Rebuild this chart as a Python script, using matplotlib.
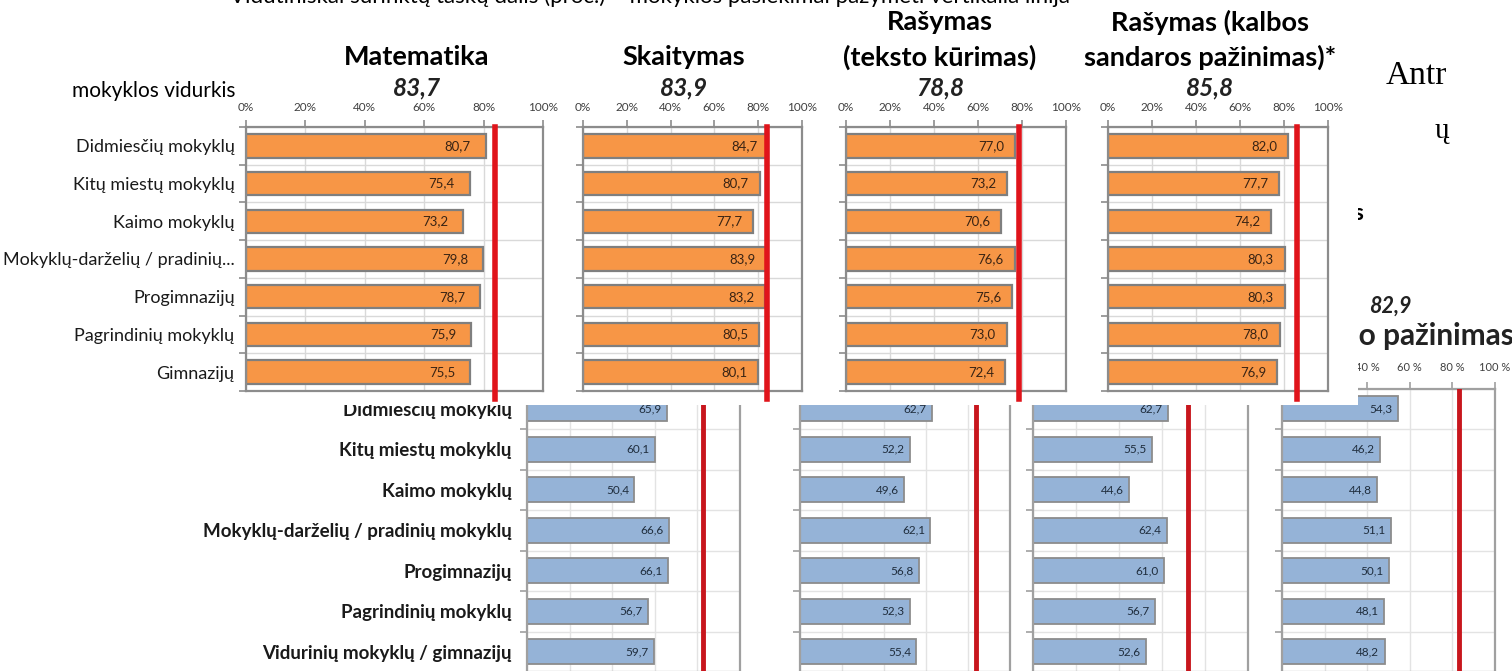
import numpy as np
import matplotlib
matplotlib.use("Agg")
import matplotlib.pyplot as plt
from matplotlib.patches import Rectangle
from matplotlib import font_manager as fm

# ---------------- data ----------------
top_categories = ["Didmiesčių mokyklų", "Kitų miestų mokyklų", "Kaimo mokyklų",
                  "Mokyklų-darželių / pradinių...", "Progimnazijų",
                  "Pagrindinių mokyklų", "Gimnazijų"]
top_subjects = ["Matematika", "Skaitymas", "Rašymas\n(teksto kūrimas)",
                "Rašymas (kalbos\nsandaros pažinimas)*"]
top_school_avg = [83.7, 83.9, 78.8, 85.8]
top_matematika = [80.7, 75.4, 73.2, 79.8, 78.7, 75.9, 75.5]
top_skaitymas = [84.7, 80.7, 77.7, 83.9, 83.2, 80.5, 80.1]
top_rasymas = [77.0, 73.2, 70.6, 76.6, 75.6, 73.0, 72.4]
top_kalba = [82.0, 77.7, 74.2, 80.3, 80.3, 78.0, 76.9]

bottom_categories = ["Didmiesčių mokyklų", "Kitų miestų mokyklų", "Kaimo mokyklų",
                     "Mokyklų-darželių / pradinių mokyklų", "Progimnazijų",
                     "Pagrindinių mokyklų", "Vidurinių mokyklų / gimnazijų"]
bottom_school_avg = [82.6, 83.8, 72.1, 82.9]
bottom_matematika = [65.9, 60.1, 50.4, 66.6, 66.1, 56.7, 59.7]
bottom_skaitymas = [62.7, 52.2, 49.6, 62.1, 56.8, 52.3, 55.4]
bottom_rasymas = [62.7, 55.5, 44.6, 62.4, 61.0, 56.7, 52.6]
bottom_kalba = [54.3, 46.2, 44.8, 51.1, 50.1, 48.1, 48.2]

tick_values = [0, 20, 40, 60, 80, 100]

# ---------------- fonts ----------------
names = {f.name for f in fm.fontManager.ttflist}
SANS = "Lato" if "Lato" in names else "DejaVu Sans"
NARROW = "Liberation Sans Narrow" if "Liberation Sans Narrow" in names else SANS
SERIF = "Liberation Serif" if "Liberation Serif" in names else "DejaVu Serif"
plt.rcParams["font.family"] = [SANS, "DejaVu Sans"]

W, H = 1512, 671
fig = plt.figure(figsize=(W / 100, H / 100), dpi=100)
fig.patch.set_facecolor("white")


def ax_at(x0, x1, y0, y1, z):
    ax = fig.add_axes([x0 / W, 1 - y1 / H, (x1 - x0) / W, (y1 - y0) / H])
    ax.set_zorder(z)
    return ax


def ftext(x, y, s, **kw):
    return fig.text(x / W, 1 - y / H, s, **kw)


def style_panel(ax, spine_col, grid_col, tick_fmt, tick_size, tick_pad, show_ticks=True):
    ax.set_xlim(0, 100)
    ax.set_ylim(6.5, -0.5)
    ax.xaxis.tick_top()
    ax.set_xticks(tick_values)
    if show_ticks:
        ax.set_xticklabels([tick_fmt.format(t) for t in tick_values],
                           fontsize=tick_size, color="#404040")
    else:
        ax.set_xticklabels([])
    ax.tick_params(axis="x", length=5, width=1.2, color=spine_col, pad=tick_pad)
    ax.set_yticks(np.arange(-0.5, 7, 1), minor=True)
    ax.tick_params(axis="y", which="minor", length=5, width=1.2, color=spine_col)
    ax.tick_params(axis="y", which="major", length=0)
    ax.grid(axis="x", which="major", color=grid_col, lw=1)
    ax.grid(axis="y", which="minor", color=grid_col, lw=1)
    ax.set_axisbelow(True)
    for sp in ax.spines.values():
        sp.set_color(spine_col)
        sp.set_linewidth(1.6)


def fmt(v):
    return f"{v:.1f}".replace(".", ",")


# ---------------- bottom (background) chart ----------------
bottom_series = [bottom_matematika, bottom_skaitymas, bottom_rasymas, bottom_kalba]
bottom_x = [(527, 740), (800, 1010), (1033, 1248), (1282, 1495)]
for k, (vals, (x0, x1)) in enumerate(zip(bottom_series, bottom_x)):
    ax = ax_at(x0, x1, 388.5, 672, 0)
    y = np.arange(len(vals))
    ax.barh(y, vals, height=0.62, color="#95B3D7", edgecolor="#8C8C8C", lw=1.3)
    style_panel(ax, "#A0A0A0", "#E3E3E3", "{} %", 8, 6, show_ticks=(k == 3))
    ax.axvline(bottom_school_avg[k], color="#C8161D", lw=3.5, zorder=3)
    for i, v in enumerate(vals):
        ax.text(v - 2.5, i, fmt(v), ha="right", va="center", fontsize=8.5,
                family=NARROW, color="#1F2D3D")
    ax.set_yticks(y)
    if k == 0:
        ax.set_yticklabels(bottom_categories, fontsize=13.5, family=NARROW,
                           fontweight="bold", color="#1a1a1a")
        ax.tick_params(axis="y", which="major", pad=11)
    else:
        ax.set_yticklabels([])

# visible fragments of the background chart's headers
ftext(1364, 213, "Rašymas", ha="right", va="center", fontsize=16,
      fontweight="bold", zorder=1)
ftext(1390, 306, "82,9", ha="center", va="center", fontsize=15.5,
      fontweight="bold", style="italic", color="#222222", zorder=1)
ftext(1514, 336, "Pasaulio pažinimas", ha="right", va="center", fontsize=21.5,
      fontweight="bold", color="#222222", zorder=1)
ftext(1416, 76, "Antr", ha="center", va="center", fontsize=24, family=SERIF, zorder=1)
ftext(1442, 131, "ų", ha="center", va="center", fontsize=21, family=SERIF, zorder=1)

# white cover sheet
fig.add_artist(Rectangle((0, 1 - 405 / H), 1358 / W, 405 / H,
                         transform=fig.transFigure, facecolor="white",
                         edgecolor="none", zorder=2))

# ---------------- top (overlay) chart ----------------
top_series = [top_matematika, top_skaitymas, top_rasymas, top_kalba]
top_x = [(245.7, 543), (583, 802), (846, 1066), (1108, 1328)]
for k, (vals, (x0, x1)) in enumerate(zip(top_series, top_x)):
    ax = ax_at(x0, x1, 127, 391, 3)
    ax.patch.set_facecolor("white")
    y = np.arange(len(vals))
    ax.barh(y, vals, height=0.62, color="#F79646", edgecolor="#7F7F7F", lw=1.6)
    style_panel(ax, "#8C8C8C", "#D9D9D9", "{}%", 8.5, 5)
    ax.axvline(top_school_avg[k], ymin=-0.03, ymax=1, color="#E0141B", lw=4,
               zorder=3, clip_on=False)
    for i, v in enumerate(vals):
        ax.text(v - 5, i, fmt(v), ha="right", va="center", fontsize=9.5,
                color="#3A2414")
    ax.set_yticks(y)
    if k == 0:
        ax.set_yticklabels(top_categories, fontsize=13, color="#1a1a1a")
        ax.tick_params(axis="y", which="major", pad=8)
    else:
        ax.set_yticklabels([])

# top headers
header_x = [417, 684, 940, 1210]
for k, (name, cx) in enumerate(zip(top_subjects, header_x)):
    lines = name.split("\n")
    if len(lines) == 2:
        ftext(cx, 22, lines[0], ha="center", va="center", fontsize=19.5,
              fontweight="bold", zorder=4)
        ftext(cx, 57, lines[1], ha="center", va="center", fontsize=19.5,
              fontweight="bold", zorder=4)
    else:
        ftext(cx, 57, lines[0], ha="center", va="center", fontsize=19.5,
              fontweight="bold", zorder=4)
    ftext(cx, 88, fmt(top_school_avg[k]), ha="center", va="center", fontsize=17.5,
          fontweight="bold", style="italic", color="#222222", zorder=4)

ftext(72, 91, "mokyklos vidurkis", ha="left", va="center", fontsize=15, zorder=4)
ftext(650, 3, "Vidutiniškai surinktų taškų dalis (proc.) – mokyklos pasiekimai "
      "pažymėti vertikalia linija", ha="center", va="baseline", fontsize=16,
      zorder=4)

fig.savefig("out.png", dpi=100, facecolor="white")
